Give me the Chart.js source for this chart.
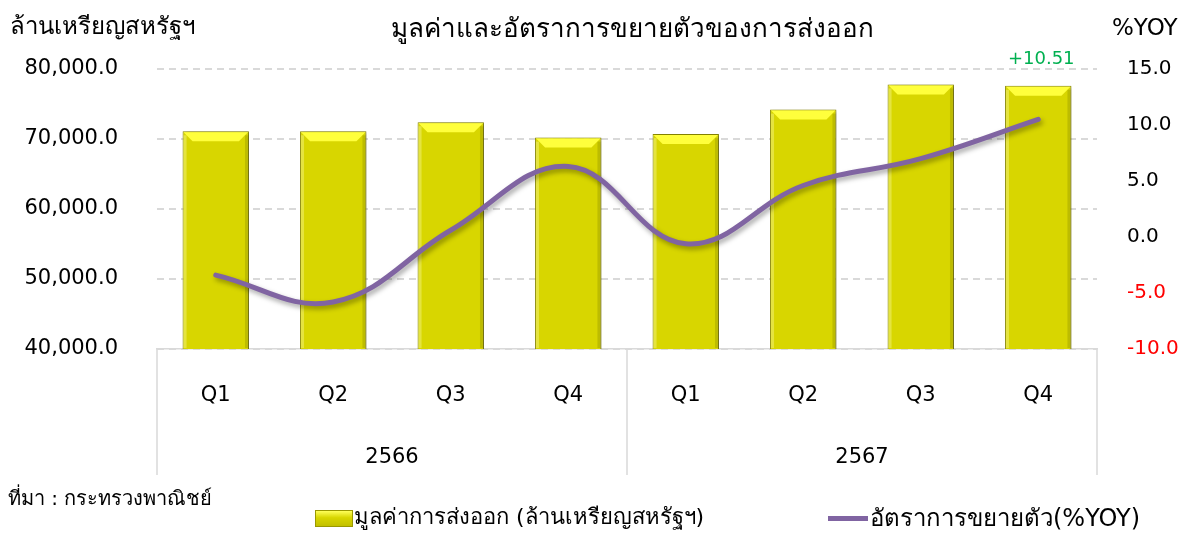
<!DOCTYPE html>
<html>
<head>
<meta charset="utf-8">
<script src="https://cdn.jsdelivr.net/npm/chart.js@4.4.1/dist/chart.umd.min.js"></script>
<style>
  html, body { margin: 0; padding: 0; background: #fff; }
  #wrap { position: relative; width: 1189px; height: 540px; font-family: "DejaVu Sans", "Noto Sans", sans-serif; color: #000; }
  #wrap canvas { position: absolute; left: 0; top: 0; }
  .txt { position: absolute; white-space: nowrap; line-height: 1; }
  .swatch-bar { position: absolute; left: 315px; top: 510px; width: 38px; height: 17px; box-sizing: border-box;
    background: linear-gradient(#ffff5a, #d8d600 45%, #c2c000); border: 1px solid #9a9800; }
  .swatch-line { position: absolute; left: 828px; top: 516px; width: 40px; height: 5px; background: #8064a2; }
</style>
</head>
<body>
<div id="wrap">
  <canvas id="myChart" width="1189" height="540"></canvas>
  <div class="txt" style="left:10px; top:14px; font-size:24px;">ล้านเหรียญสหรัฐฯ</div>
  <div class="txt" style="left:0; width:1264px; top:15px; font-size:26px; text-align:center;">มูลค่าและอัตราการขยายตัวของการส่งออก</div>
  <div class="txt" style="left:1112px; top:16px; font-size:23px;">%YOY</div>
  <div class="txt" style="left:8px; top:488px; font-size:20px;">ที่มา : กระทรวงพาณิชย์</div>
  <div class="swatch-bar"></div>
  <div class="txt" style="left:354px; top:506px; font-size:22px;">มูลค่าการส่งออก (ล้านเหรียญสหรัฐฯ)</div>
  <div class="swatch-line"></div>
  <div class="txt" style="left:870px; top:506px; font-size:24px;">อัตราการขยายตัว(%YOY)</div>
</div>
<script>
'use strict'

var quarters = ['Q1', 'Q2', 'Q3', 'Q4', 'Q1', 'Q2', 'Q3', 'Q4'];
var years = ['2566', '2567'];
var exportValue = [71100, 71100, 72400, 70200, 70700, 74200, 77800, 77600];
var growthYoY = [-3.4, -5.8, 0.6, 6.3, -0.6, 4.6, 7.0, 10.51];
var valueTicks = [40000, 50000, 60000, 70000, 80000];
var yoyTicks = [-10, -5, 0, 5, 10, 15];
var lastLabel = '+10.51';

// bevel on top of the bars + shadows
var barLook = {
  id: 'barLook',
  beforeDatasetDraw: function(chart, args) {
    var ctx = chart.ctx;
    ctx.save();
    ctx.shadowColor = 'rgba(0,0,0,0.35)';
    if (args.index === 0) {
      ctx.shadowBlur = 4;
      ctx.shadowOffsetX = 2;
      ctx.shadowOffsetY = 1;
    } else {
      ctx.shadowBlur = 5;
      ctx.shadowOffsetX = 2;
      ctx.shadowOffsetY = 3;
    }
  },
  afterDatasetDraw: function(chart, args) {
    var ctx = chart.ctx;
    ctx.restore();
    if (args.index !== 0) return;
    var meta = chart.getDatasetMeta(0);
    var bottom = chart.chartArea.bottom;
    ctx.save();
    meta.data.forEach(function(bar) {
      var l = bar.x - bar.width / 2, r = bar.x + bar.width / 2, t = bar.y, b = 10;
      var h = Math.min(bar.base, bottom) - t - 5;
      ctx.fillStyle = '#ffff3c';
      ctx.beginPath();
      ctx.moveTo(l + 1, t + 1);
      ctx.lineTo(r - 1, t + 1);
      ctx.lineTo(r - b, t + b);
      ctx.lineTo(l + b, t + b);
      ctx.closePath();
      ctx.fill();
      ctx.fillStyle = 'rgba(0,0,0,0.12)';
      ctx.fillRect(r - 4, t + 4, 3, h);
      ctx.fillStyle = 'rgba(255,255,180,0.35)';
      ctx.fillRect(l + 1, t + 4, 3, h);
    });
    ctx.restore();
  }
};

// year boxes and the +10.51 label
var extras = {
  id: 'extras',
  afterDraw: function(chart) {
    var ctx = chart.ctx, x = chart.scales.x, x2 = chart.scales.x2;
    var mid = (x.getPixelForValue(3) + x.getPixelForValue(4)) / 2;
    ctx.save();
    ctx.strokeStyle = '#d9d9d9';
    ctx.lineWidth = 1.5;
    [x.left, mid, x.right].forEach(function(px) {
      ctx.beginPath();
      ctx.moveTo(px, x.top);
      ctx.lineTo(px, x2.bottom);
      ctx.stroke();
    });
    var pt = chart.getDatasetMeta(1).data[growthYoY.length - 1];
    ctx.fillStyle = '#00b050';
    ctx.font = '18px "DejaVu Sans"';
    ctx.textAlign = 'center';
    ctx.textBaseline = 'middle';
    ctx.fillText(lastLabel, pt.x + 3, chart.scales.y1.getPixelForValue(15) - 10);
    ctx.restore();
  }
};

var ctx = document.getElementById('myChart');

var chart = new Chart(ctx, {
  data: {
    labels: quarters,
    datasets: [{
      type: 'bar',
      label: 'มูลค่าการส่งออก (ล้านเหรียญสหรัฐฯ)',
      data: exportValue,
      backgroundColor: '#d8d600',
      borderColor: '#8f8d00',
      borderWidth: 1,
      categoryPercentage: 1,
      barPercentage: 0.565,
      yAxisID: 'y',
      order: 1
    },
    {
      type: 'line',
      label: 'อัตราการขยายตัว(%YOY)',
      data: growthYoY,
      borderColor: '#8064a2',
      borderWidth: 5,
      borderCapStyle: 'round',
      pointRadius: 0,
      tension: 0.4,
      yAxisID: 'y1',
      order: 0
    }]
  },
  options: {
    responsive: false,
    animation: false,
    layout: { padding: { top: 69, bottom: 65, left: 0, right: 0 } },
    plugins: {
      legend: { display: false },
      title: { display: false },
      tooltip: { enabled: false }
    },
    scales: {
      x: {
        position: 'bottom',
        offset: true,
        grid: { display: false, drawTicks: false },
        border: { display: true, color: '#d9d9d9', width: 1.5 },
        ticks: { color: '#000', font: { family: 'DejaVu Sans', size: 21 }, padding: 34 },
        afterFit: function(s) { s.height = 66; }
      },
      x2: {
        type: 'category',
        labels: years,
        position: 'bottom',
        offset: true,
        grid: { display: false, drawTicks: false },
        border: { display: false },
        ticks: { color: '#000', font: { family: 'DejaVu Sans', size: 21 }, padding: 30 },
        afterFit: function(s) { s.height = 60; }
      },
      y: {
        position: 'left',
        min: 40000,
        max: 80000,
        afterBuildTicks: function(s) { s.ticks = valueTicks.map(function(v) { return { value: v }; }); },
        grid: { color: '#d9d9d9', lineWidth: 2, drawTicks: false },
        border: { display: false, dash: [7, 5] },
        ticks: {
          color: '#000',
          font: { family: 'DejaVu Sans', size: 21 },
          padding: 39,
          callback: function(v) {
            return v.toLocaleString('en-US', { minimumFractionDigits: 1, maximumFractionDigits: 1 });
          }
        },
        afterFit: function(s) { s.width = 157; }
      },
      y1: {
        position: 'right',
        min: -10,
        max: 15,
        afterBuildTicks: function(s) { s.ticks = yoyTicks.map(function(v) { return { value: v }; }); },
        grid: { display: false, drawTicks: false },
        border: { display: false },
        ticks: {
          font: { family: 'DejaVu Sans', size: 20 },
          padding: 30,
          color: function(c) { return c.tick && c.tick.value < 0 ? '#ff0000' : '#000'; },
          callback: function(v) { return v.toFixed(1); }
        },
        afterFit: function(s) { s.width = 92; }
      }
    }
  },
  plugins: [barLook, extras]
});
</script>
</body>
</html>
